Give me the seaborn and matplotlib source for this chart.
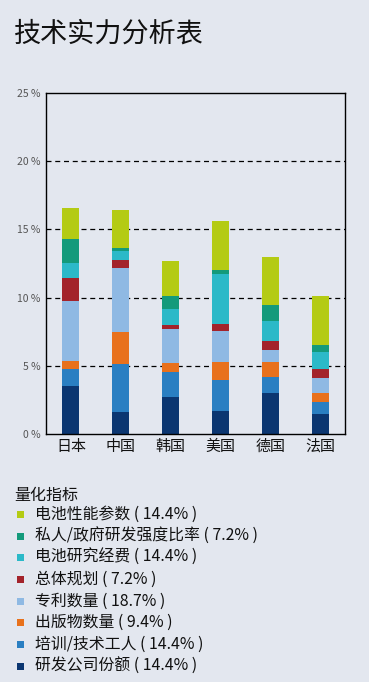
import matplotlib
matplotlib.use("Agg")
import matplotlib.pyplot as plt
from matplotlib.patches import Rectangle
import seaborn as sns
import pandas as pd

countries = ["日本", "中国", "韩国", "美国", "德国", "法国"]
# indicators listed top (legend order) -> stacked bottom is last
indicators = ["电池性能参数", "私人/政府研发强度比率", "电池研究经费", "总体规划",
              "专利数量", "出版物数量", "培训/技术工人", "研发公司份额"]
weights_txt = ["14.4%", "7.2%", "14.4%", "7.2%", "18.7%", "9.4%", "14.4%", "14.4%"]
colors = ["#b4cb14", "#139a7b", "#2bb9c8", "#a3232b", "#8fb9e3", "#e8711c", "#2a7fc2", "#0b3671"]

battery_perf = [2.32, 2.82, 2.58, 3.60, 3.55, 3.57]
rd_ratio     = [1.75, 0.20, 0.94, 0.29, 1.17, 0.49]
research_fund = [1.07, 0.68, 1.17, 3.68, 1.46, 1.24]
overall_plan = [1.73, 0.53, 0.29, 0.51, 0.68, 0.66]
patents      = [4.36, 4.70, 2.46, 2.28, 0.85, 1.09]
publications = [0.57, 2.36, 0.68, 1.32, 1.10, 0.66]
workers      = [1.25, 3.55, 1.81, 2.24, 1.16, 0.90]
company_share = [3.55, 1.58, 2.74, 1.72, 3.04, 1.48]

series = [battery_perf, rd_ratio, research_fund, overall_plan,
          patents, publications, workers, company_share]

rows = []
for ind, vals in zip(indicators, series):
    for c, v in zip(countries, vals):
        rows.append({"country": c, "indicator": ind, "value": v})
df = pd.DataFrame(rows)
df["country"] = pd.Categorical(df["country"], categories=countries, ordered=True)

sns.set_theme(style="white")
plt.rcParams["font.family"] = ["Noto Sans CJK SC", "DejaVu Sans"]

bg = "#e3e7ef"
fig = plt.figure(figsize=(3.69, 6.82), dpi=100, facecolor=bg)
ax = fig.add_axes([46/369, 1-434/682, 299/369, 341/682])
ax.set_facecolor(bg)

sns.histplot(data=df, x="country", weights="value", hue="indicator",
             hue_order=indicators, palette=colors, multiple="stack",
             discrete=True, shrink=0.34, alpha=1, linewidth=0,
             legend=False, ax=ax)

ax.set_xlim(-0.5, 5.5)
ax.set_ylim(0, 25)
ax.set_yticks([0, 5, 10, 15, 20, 25])
ax.set_yticklabels([f"{t} %" for t in [0, 5, 10, 15, 20, 25]])
ax.set_xticks(range(len(countries)))
ax.set_xticklabels(countries)
ax.set_xlabel("")
ax.set_ylabel("")
for y in [5, 10, 15, 20]:
    ax.axhline(y, color="black", lw=0.9, ls=(0, (4, 3)), zorder=0.5)
for s in ax.spines.values():
    s.set_visible(True)
    s.set_color("black")
    s.set_linewidth(1.0)
ax.tick_params(axis="y", length=0, pad=4, labelsize=7.5, labelcolor="#555555")
ax.tick_params(axis="x", length=0, pad=4, labelsize=10.8, labelcolor="#111111")

fig.text(14/369, 1-34/682, "技术实力分析表", fontsize=19.5, color="#111111",
         ha="left", va="center")

fig.text(14/369, 1-495/682, "量化指标", fontsize=11.5, color="#111111",
         ha="left", va="center")
y0 = 514.5
dy = 21.65
for i, (ind, w, col) in enumerate(zip(indicators, weights_txt, colors)):
    yc = y0 + i * dy
    fig.patches.append(Rectangle(((16.5)/369, 1-(yc+3.5)/682), 7/369, 7/682,
                                 transform=fig.transFigure, facecolor=col,
                                 edgecolor="none"))
    fig.text(35/369, 1-yc/682, f"{ind} ( {w} )", fontsize=11.4, color="#111111",
             ha="left", va="center")

fig.savefig("out.png", dpi=100, facecolor=bg)
